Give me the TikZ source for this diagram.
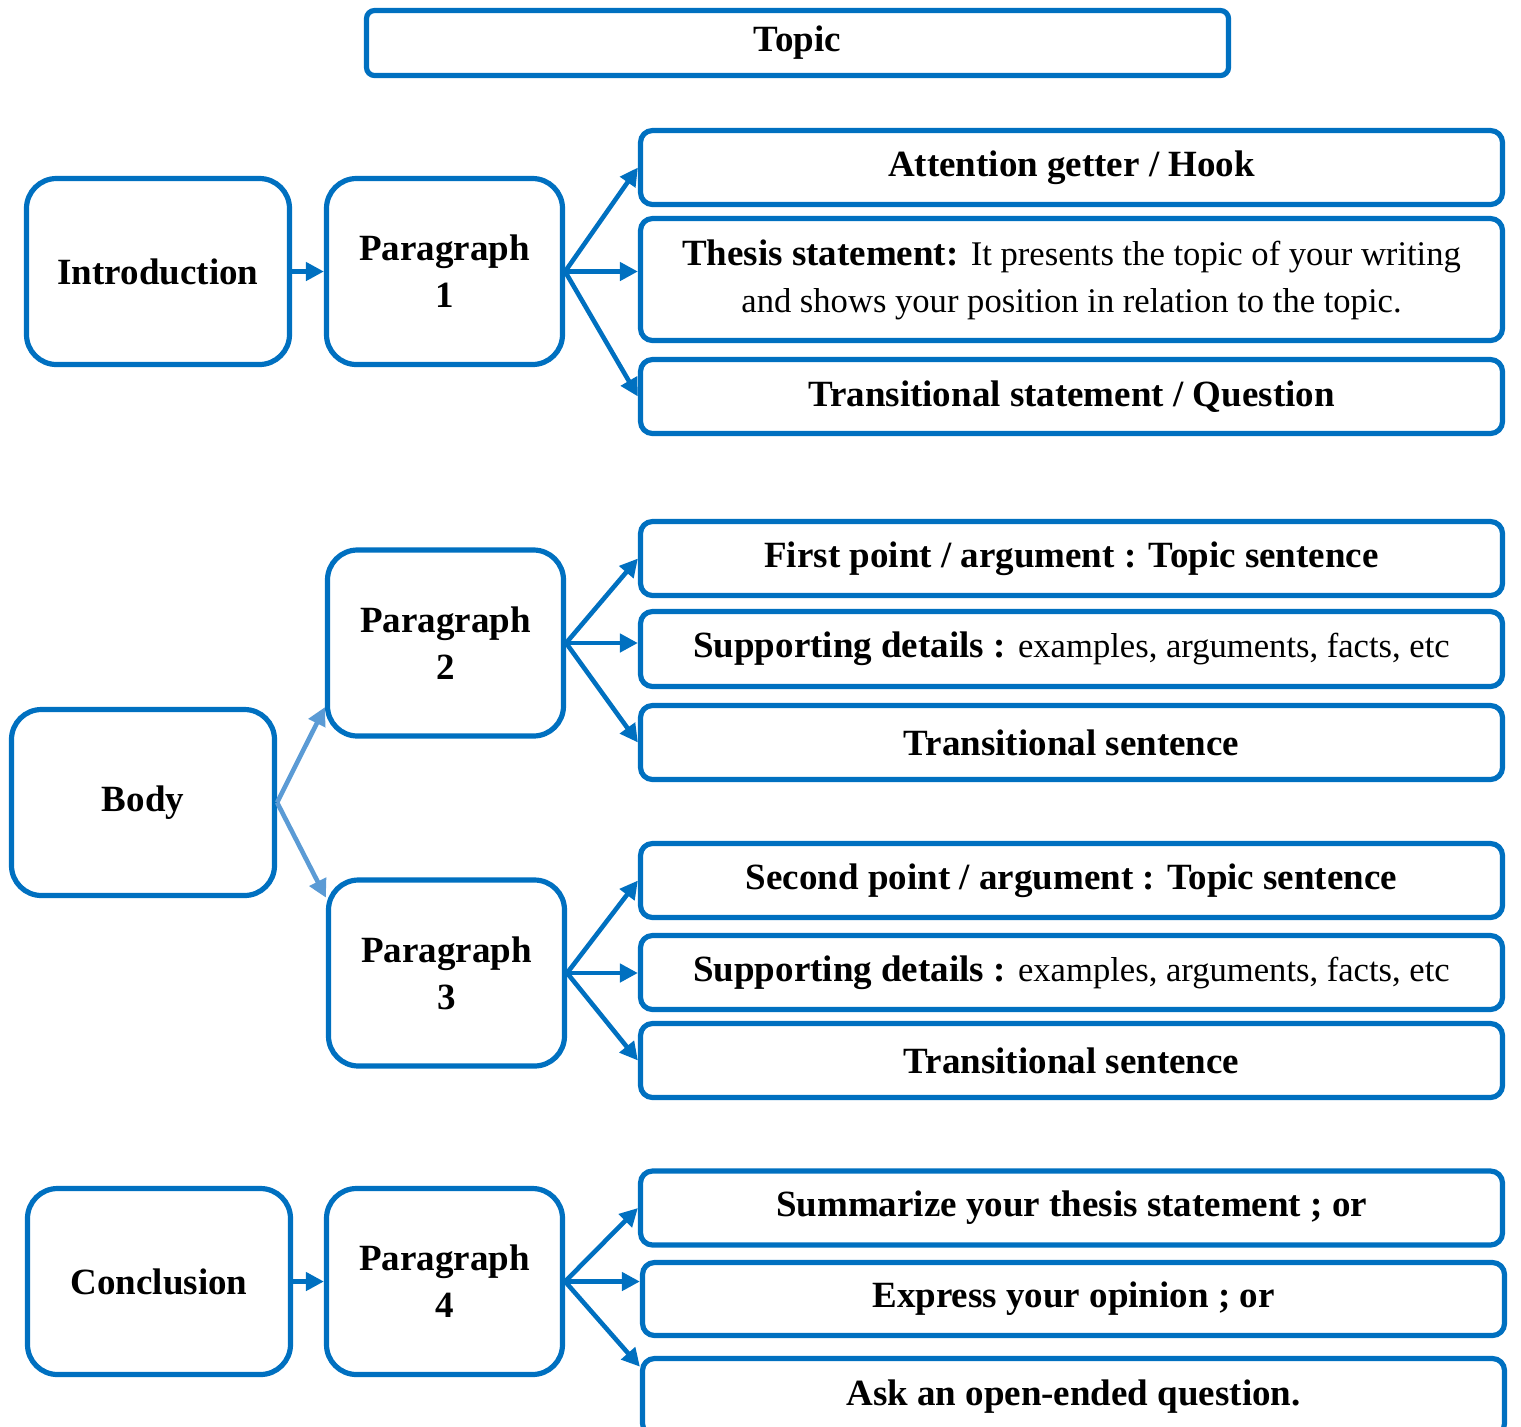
\documentclass[tikz,border=0pt]{standalone}
\usepackage{fontspec}
\setmainfont{Liberation Serif}
\usetikzlibrary{arrows.meta}
\definecolor{boxblue}{HTML}{0070C0}
\definecolor{lightblue}{HTML}{5B9BD5}
\newcommand{\plaintext}[1]{{\mdseries\fontsize{17.3}{23}\selectfont #1}}

\begin{document}
\begin{tikzpicture}[x=0.5pt,y=-0.5pt,
  box/.style={draw=boxblue,line width=2.6pt,align=center,inner sep=0pt,
    font=\fontsize{18.5}{23.5}\selectfont\bfseries},
  wide/.style={box,rounded corners=6pt,minimum width=431pt,minimum height=37pt},
  part/.style={box,rounded corners=15pt,minimum width=131.5pt,minimum height=93pt},
  para/.style={box,rounded corners=15pt,minimum width=118pt,minimum height=93pt},
  link/.style={draw=boxblue,line width=2.3pt,-{Triangle[length=9pt,width=9pt]}},
  split/.style={link,draw=lightblue,-{Triangle[length=9pt,width=9pt,fill=lightblue]}}]
  \useasboundingbox (0,0) rectangle (1521,1426);
  % title
  \node[box,rounded corners=4pt,minimum width=431pt,minimum height=32.5pt] (topic) at (797.5,43) {Topic};
  % introduction
  \node[part] (intro) at (158,271.5) {Introduction};
  \node[para] (p1) at (444.5,271.5) {Paragraph\\1};
  \node[wide] (hook) at (1071.5,167.5) {Attention getter / Hook};
  \node[wide,minimum height=61pt] (thesis) at (1071.5,279.5)
    {Thesis statement: \plaintext{It presents the topic of your writing}\\\plaintext{and shows your position in relation to the topic.}};
  \node[wide] (transq) at (1071.5,396.5) {Transitional statement / Question};
  \draw[link] (intro.east) -- (p1.west);
  \draw[link] (p1.east) -- (hook.west);
  \draw[link] (p1.east) -- (p1.east -| thesis.west);
  \draw[link] (p1.east) -- (transq.west);
  % body
  \node[part] (body) at (143,802.5) {Body};
  \node[para] (p2) at (445.5,643) {Paragraph\\2};
  \node[para] (p3) at (446.5,973) {Paragraph\\3};
  \node[wide] (first) at (1071.5,558.5) {First point / argument : Topic sentence};
  \node[wide,minimum height=37.5pt] (supa) at (1071.5,649) {Supporting details : \plaintext{examples, arguments, facts, etc}};
  \node[wide] (transa) at (1071.5,742.5) {Transitional sentence};
  \node[wide] (second) at (1071.5,880.5) {Second point / argument : Topic sentence};
  \node[wide] (supb) at (1071.5,972.5) {Supporting details : \plaintext{examples, arguments, facts, etc}};
  \node[wide] (transb) at (1071.5,1060.5) {Transitional sentence};
  \draw[split] (body.east) -- (p2.208);
  \draw[split] (body.east) -- (p3.148);
  \draw[link] (p2.east) -- (first.west);
  \draw[link] (p2.east) -- (p2.east -| supa.west);
  \draw[link] (p2.east) -- (transa.west);
  \draw[link] (p3.east) -- (second.west);
  \draw[link] (p3.east) -- (p3.east -| supb.west);
  \draw[link] (p3.east) -- (transb.west);
  % conclusion
  \node[part] (concl) at (159,1281.5) {Conclusion};
  \node[para] (p4) at (444.5,1281.5) {Paragraph\\4};
  \node[wide] (summ) at (1071.5,1208) {Summarize your thesis statement ; or};
  \node[wide,minimum height=36.5pt] (opinion) at (1073.5,1299) {Express your opinion ; or};
  \node[wide,minimum height=38.5pt] (ask) at (1073.5,1397) {Ask an open-ended question.};
  \draw[link] (concl.east) -- (p4.west);
  \draw[link] (p4.east) -- (summ.west);
  \draw[link] (p4.east) -- (p4.east -| opinion.west);
  \draw[link] (p4.east) -- (ask.176);
\end{tikzpicture}
\end{document}
